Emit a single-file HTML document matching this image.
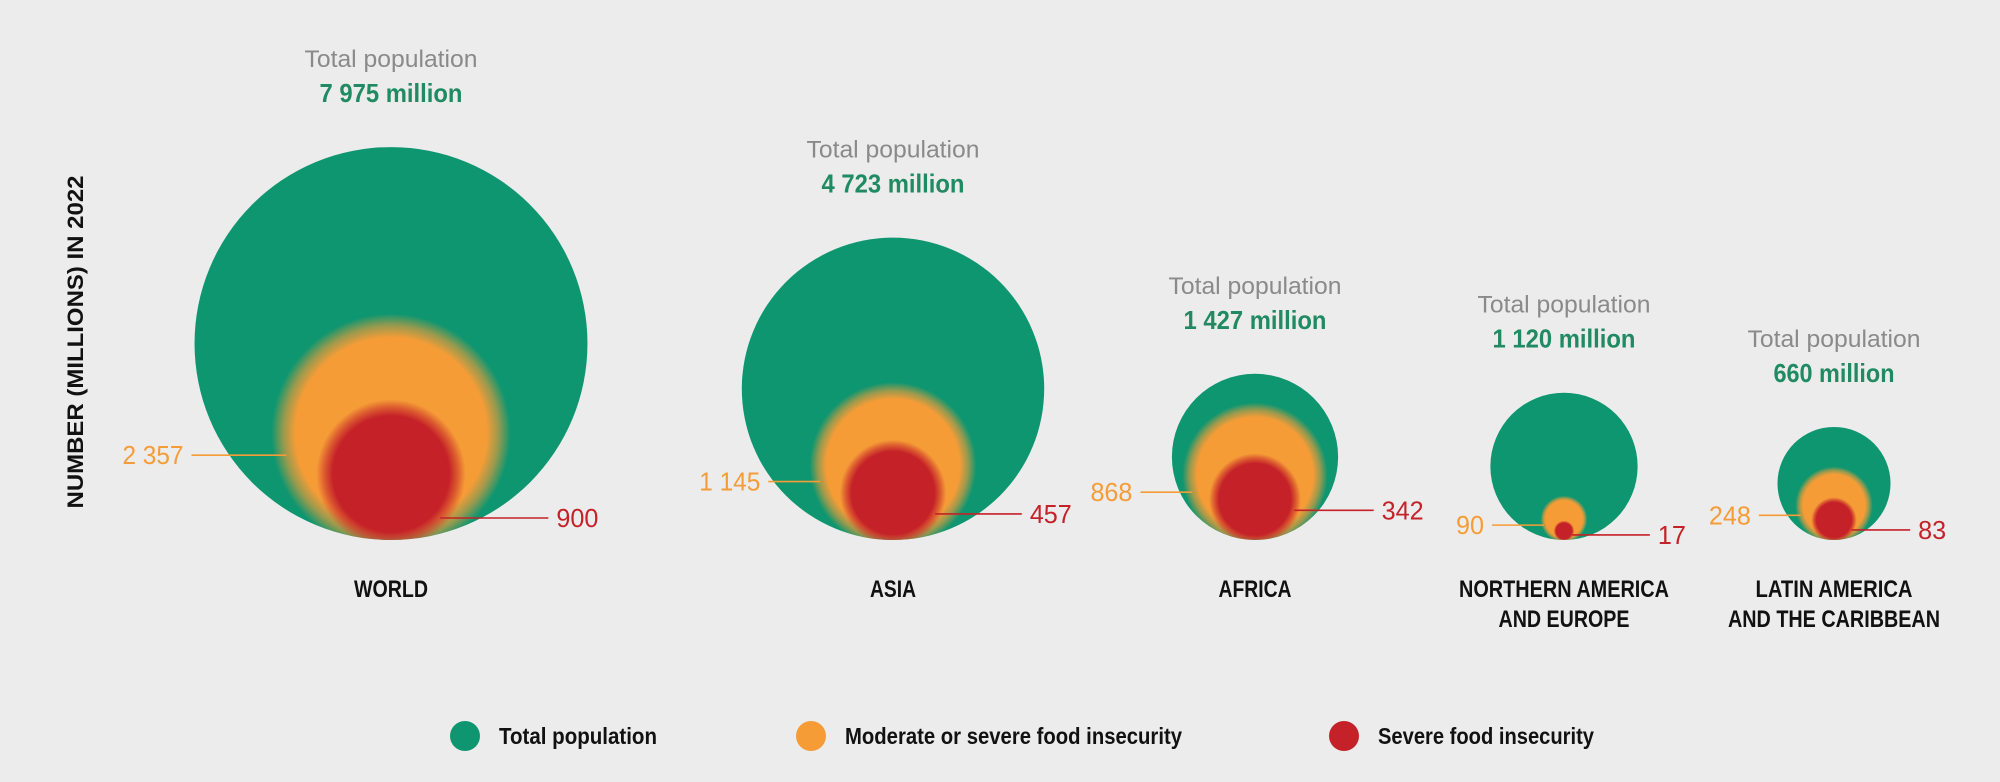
<!DOCTYPE html>
<html><head><meta charset="utf-8">
<style>
html,body{margin:0;padding:0;background:#ececec;}
svg{display:block;}
text{font-family:"Liberation Sans Narrow","Liberation Sans",sans-serif;}
</style></head>
<body>
<svg id="chart" width="2000" height="782" viewBox="0 0 2000 782" xmlns="http://www.w3.org/2000/svg">
<defs>
<radialGradient id="gOrange" cx="50%" cy="50%" r="50%">
<stop offset="0.8" stop-color="#f59c37" stop-opacity="1"/>
<stop offset="0.9" stop-color="#f59c37" stop-opacity="0.6"/>
<stop offset="1" stop-color="#f59c37" stop-opacity="0"/>
</radialGradient>
<radialGradient id="gRed" cx="50%" cy="50%" r="50%">
<stop offset="0.78" stop-color="#c52128" stop-opacity="1"/>
<stop offset="0.9" stop-color="#c52128" stop-opacity="0.5"/>
<stop offset="1" stop-color="#c52128" stop-opacity="0"/>
</radialGradient>
</defs>
<rect x="0" y="0" width="2000" height="782" fill="#ececec"/>
<text transform="translate(83,342) rotate(-90)" text-anchor="middle" font-size="22" font-weight="bold" fill="#111" style="font-family:'Liberation Sans',sans-serif" textLength="333" lengthAdjust="spacingAndGlyphs">NUMBER (MILLIONS) IN 2022</text>
<g id="bubbles"></g>
<g id="legend"></g>
</svg>
<script>
// data
const regions = ["WORLD", "ASIA", "AFRICA", "NORTHERN AMERICA|AND EUROPE", "LATIN AMERICA|AND THE CARIBBEAN"];
const totalPop = [7975, 4723, 1427, 1120, 660];
const moderateSevere = [2357, 1145, 868, 90, 248];
const severe = [900, 457, 342, 17, 83];
const totalLabels = ["7 975", "4 723", "1 427", "1 120", "660"];
const modLabels = ["2 357", "1 145", "868", "90", "248"];
const sevLabels = ["900", "457", "342", "17", "83"];

// layout (not data)
const centersX = [391, 893, 1255, 1564, 1834];
const nameWidths = [[74], [46], [73], [210, 131], [157, 212]];
const baseY = 540;
const k = 2.2;
const modOff = [22, 16, 17, 6, 10];
const sevOff = [44, 21, 11, 4, 10];
const sevEndGap = [67, 44, 55, 59, 44];

const NS = "http://www.w3.org/2000/svg";
const g = document.getElementById("bubbles");
function r(v){ return k*Math.sqrt(v); }
function mk(tag, attrs, parent){
  const e = document.createElementNS(NS, tag);
  for (const a in attrs) e.setAttribute(a, attrs[a]);
  (parent||g).appendChild(e);
  return e;
}
function numW(s){ let w=0; for (const c of s) w += (c===" ")?5:14; return w; }

regions.forEach((name, i) => {
  const cx = centersX[i];
  const R = r(totalPop[i]), Ro = r(moderateSevere[i]), Rr = r(severe[i]);
  const cyT = baseY - R, cyO = baseY - Ro, cyR = baseY - Rr;
  const grp = mk("g", {});
  
  
  const clip = mk("clipPath", {id: "clip"+i}, grp);
  mk("circle", {cx: cx, cy: cyT, r: R}, clip);
  const c1 = mk("circle", {cx: cx, cy: cyT, r: R, fill: "#0e9670"}, grp);
  
  
  const inner = mk("g", {"clip-path": "url(#clip"+i+")"}, grp);
  const c2 = mk("circle", {cx: cx, cy: cyO, r: Ro*1.12, fill: "url(#gOrange)"}, inner);
  
  
  const c3 = mk("circle", {cx: cx, cy: cyR, r: Rr*1.13, fill: "url(#gRed)"}, inner);
  
  

  // titles
  const top = baseY - 2*R;
  const t1 = mk("text", {x: cx, y: top-80, "text-anchor": "middle", "font-size": 24, fill: "#8a8a8a", textLength: 173, lengthAdjust: "spacingAndGlyphs"}, grp);
  t1.textContent = "Total population";
  
  
  const vs = totalLabels[i] + " million";
  const t2 = mk("text", {x: cx, y: top-45, "text-anchor": "middle", "font-size": 26, "font-weight": "bold", fill: "#1f8a63", textLength: vs.length*11, lengthAdjust: "spacingAndGlyphs"}, grp);
  t2.textContent = vs;
  
  

  // moderate label
  const yo = cyO + modOff[i];
  const dxo = Math.sqrt(Math.max(0, Ro*Ro - (yo-cyO)*(yo-cyO)));
  const ox = cx - dxo;
  const lineLen = i===0 ? 95 : (i===4 ? 42 : 52);
  const l1 = mk("line", {x1: ox-lineLen, y1: yo, x2: ox, y2: yo, stroke: "#f59c37", "stroke-width": 1.6}, grp);
  
  
  const mt = mk("text", {x: ox-lineLen-8, y: yo+9, "text-anchor": "end", "font-size": 26, fill: "#f59c37", textLength: numW(modLabels[i]), lengthAdjust: "spacingAndGlyphs"}, grp);
  mt.textContent = modLabels[i];
  
  

  // severe label
  const yr = cyR + sevOff[i];
  const dxr = Math.sqrt(Math.max(0, Rr*Rr - (yr-cyR)*(yr-cyR)));
  const rx = cx + dxr;
  const dyT = yr - cyT;
  const gx = cx + Math.sqrt(Math.max(0, R*R - dyT*dyT));
  const ex = gx + sevEndGap[i];
  const l2 = mk("line", {x1: rx, y1: yr, x2: ex, y2: yr, stroke: "#c52128", "stroke-width": 1.6}, grp);
  
  
  const st = mk("text", {x: ex+8, y: yr+9, "font-size": 26, fill: "#c52128", textLength: numW(sevLabels[i]), lengthAdjust: "spacingAndGlyphs"}, grp);
  st.textContent = sevLabels[i];
  
  

  // region name
  name.split("|").forEach((line, j) => {
    const nt = mk("text", {x: cx, y: 597 + j*30, "text-anchor": "middle", "font-size": 24, "font-weight": "bold", fill: "#111", textLength: nameWidths[i][j], lengthAdjust: "spacingAndGlyphs"}, grp);
    nt.textContent = line;
    
    
  });
});

// legend
const legendLabels = ["Total population", "Moderate or severe food insecurity", "Severe food insecurity"];
const legendColors = ["#0e9670", "#f59c37", "#c52128"];
const legendX = [465, 811, 1344];
const legendW = [158, 337, 216];
const lg = document.getElementById("legend");
legendLabels.forEach((lab, i) => {
  const e = mk("g", {}, lg);
  
  
  const d = mk("ellipse", {cx: legendX[i], cy: 736, rx: 15, ry: 15, fill: legendColors[i]}, e);
  
  
  const t = mk("text", {x: legendX[i]+34, y: 744, "font-size": 23, "font-weight": "bold", fill: "#111", textLength: legendW[i], lengthAdjust: "spacingAndGlyphs"}, e);
  t.textContent = lab;
  
  
});
</script>
</body></html>
